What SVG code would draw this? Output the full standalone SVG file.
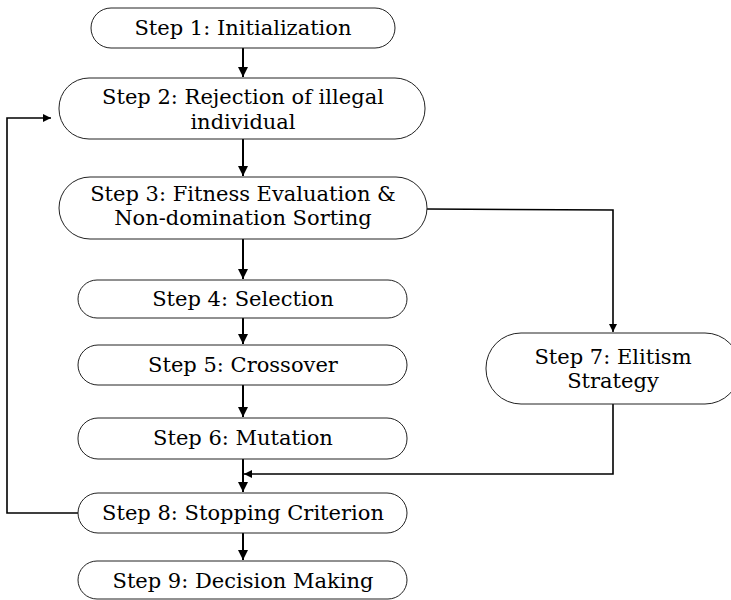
<svg xmlns="http://www.w3.org/2000/svg" width="731" height="600" viewBox="0 0 731 600">
<defs>
<marker id="ah" viewBox="0 0 10 10" refX="10" refY="5" markerWidth="5" markerHeight="5" orient="auto" markerUnits="strokeWidth">
<path d="M0,0 L10,5 L0,10 z" fill="#000"/>
</marker>
</defs>
<style>
.n{fill:#fff;stroke:#222;stroke-width:1}
.t{font-family:'DejaVu Serif','Liberation Serif',serif;font-size:21px;fill:#000;text-anchor:middle}
.c{fill:none;stroke:#000;stroke-width:2}
</style>
<rect width="731" height="600" fill="#fff"/>
<g id="connectors">
<line class="c" x1="243" y1="48" x2="243" y2="77" marker-end="url(#ah)"/>
<line class="c" x1="243" y1="139" x2="243" y2="176" marker-end="url(#ah)"/>
<line class="c" x1="243" y1="239" x2="243" y2="279" marker-end="url(#ah)"/>
<line class="c" x1="243" y1="318" x2="243" y2="344" marker-end="url(#ah)"/>
<line class="c" x1="243" y1="385" x2="243" y2="417" marker-end="url(#ah)"/>
<line class="c" x1="243" y1="459" x2="243" y2="492" marker-end="url(#ah)"/>
<line class="c" x1="243" y1="533" x2="243" y2="560" marker-end="url(#ah)"/>
<polyline class="c" points="427,209 613,210 613,332" marker-end="url(#ah)" style="stroke-width:1.6"/>
<polyline class="c" points="613,404 613,474 244,474" marker-end="url(#ah)" style="stroke-width:1.6"/>
<polyline class="c" points="78,513 7,513 7,118 51,118" marker-end="url(#ah)" style="stroke-width:1.6"/>
</g>
<g id="step1"><rect class="n" x="91" y="8" width="304" height="40" rx="20" ry="20"/><text class="t" x="243" y="35">Step 1: Initialization</text></g>
<g id="step2"><rect class="n" x="59" y="78" width="366" height="61" rx="30" ry="30"/><text class="t" x="243" y="104">Step 2: Rejection of illegal</text><text class="t" x="243" y="129">individual</text></g>
<g id="step3"><rect class="n" x="59" y="177" width="368" height="62" rx="31" ry="31"/><text class="t" x="243" y="201">Step 3: Fitness Evaluation &amp;</text><text class="t" x="243" y="225">Non-domination Sorting</text></g>
<g id="step4"><rect class="n" x="78" y="280" width="329" height="38" rx="19" ry="19"/><text class="t" x="243" y="306">Step 4: Selection</text></g>
<g id="step5"><rect class="n" x="78" y="345" width="329" height="40" rx="20" ry="20"/><text class="t" x="243" y="372">Step 5: Crossover</text></g>
<g id="step6"><rect class="n" x="78" y="418" width="329" height="41" rx="20" ry="20"/><text class="t" x="243" y="445">Step 6: Mutation</text></g>
<g id="step7"><rect class="n" x="486" y="333" width="254" height="71" rx="35" ry="35"/><text class="t" x="613" y="364">Step 7: Elitism</text><text class="t" x="613" y="388">Strategy</text></g>
<g id="step8"><rect class="n" x="78" y="493" width="329" height="40" rx="20" ry="20"/><text class="t" x="243" y="520">Step 8: Stopping Criterion</text></g>
<g id="step9"><rect class="n" x="78" y="561" width="329" height="38" rx="19" ry="19"/><text class="t" x="243" y="588">Step 9: Decision Making</text></g>
</svg>
